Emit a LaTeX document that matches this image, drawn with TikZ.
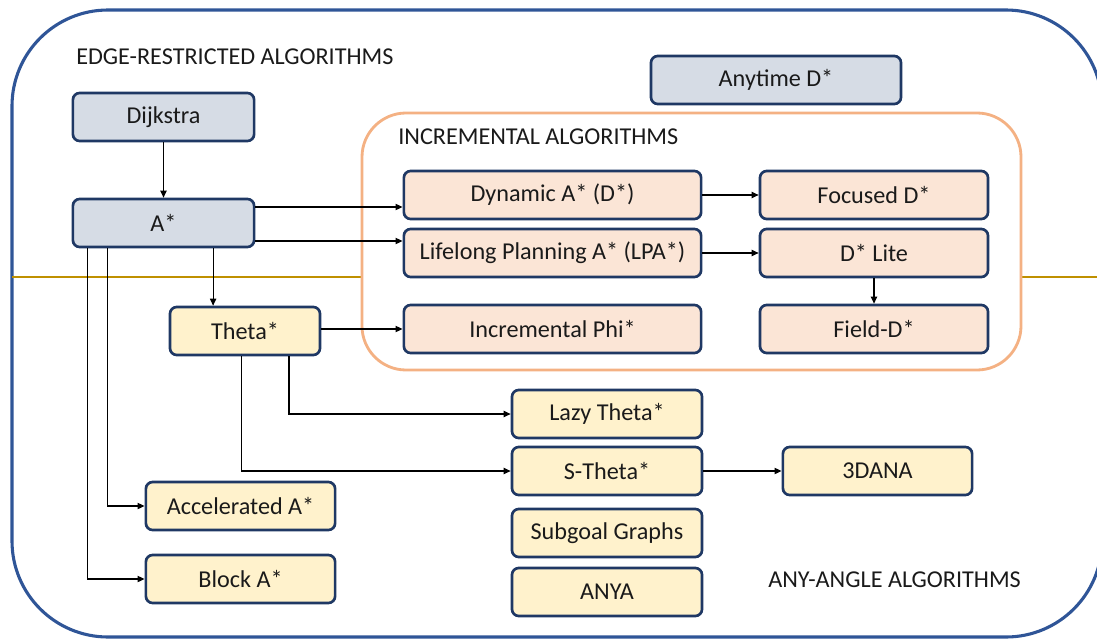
\documentclass[tikz,border=0pt]{standalone}
\usepackage{fontspec}
\setmainfont{Carlito}
\usetikzlibrary{arrows.meta}
\definecolor{framecol}{HTML}{2F5597}
\definecolor{navy}{HTML}{1F3864}
\definecolor{incframe}{HTML}{F4B183}
\definecolor{goldline}{HTML}{BF9000}
\definecolor{edgefill}{HTML}{D6DCE5}
\definecolor{incfill}{HTML}{FBE5D6}
\definecolor{anyfill}{HTML}{FFF2CC}
\definecolor{txt}{HTML}{1A1A1A}
\begin{document}
\begin{tikzpicture}[
            x=0.025cm, y=-0.025cm,
            every node/.style={text=txt, font=\fontsize{17.2}{20}\selectfont},
            algo/.style={draw=navy, line width=1.9pt, rounded corners=0.17cm,
                minimum height=1.2cm, inner sep=0pt},
            edgealgo/.style={algo, fill=edgefill},
            incalgo/.style={algo, fill=incfill},
            anyalgo/.style={algo, fill=anyfill},
            title/.style={anchor=west, inner sep=0pt},
            arr/.style={-{Triangle[length=5pt,width=4.5pt]}, line width=0.8pt, black}
            ]
            \useasboundingbox (0,0) rectangle (1097,638);
            \clip (0,0) rectangle (1097,638);
            % frames
            \draw[framecol, line width=2.2pt, rounded corners=2.4cm] (12,10) rectangle (1102,637);
            \draw[goldline, line width=1.6pt] (12,277) -- (362,277);
            \draw[goldline, line width=1.6pt] (1021,277) -- (1100,277);
            \draw[incframe, line width=2pt, fill=white, rounded corners=1.1cm] (362,113) rectangle (1021,370);
            \node[title] (edgetitle) at (76,57) {EDGE-RESTRICTED ALGORITHMS};
            \node[title] (inctitle) at (398,137) {INCREMENTAL ALGORITHMS};
            \node[title] (anytitle) at (768,580) {ANY-ANGLE ALGORITHMS};
            % edge-restricted
            \node[edgealgo, minimum width=4.53cm] (dijkstra) at (163.5,117) {Dijkstra};
            \node[edgealgo, minimum width=4.53cm] (astar) at (163.5,223) {A*};
            \node[edgealgo, minimum width=6.25cm] (anytime) at (776,80) {Anytime D*};
            % incremental
            \node[incalgo, minimum width=7.43cm] (dstar) at (552.5,195) {Dynamic A* (D*)};
            \node[incalgo, minimum width=7.43cm] (lpa) at (552.5,253) {Lifelong Planning A* (LPA*)};
            \node[incalgo, minimum width=7.43cm] (phi) at (552.5,329) {Incremental Phi*};
            \node[incalgo, minimum width=5.7cm] (focused) at (874,195) {Focused D*};
            \node[incalgo, minimum width=5.7cm] (dlite) at (874,253) {D* Lite};
            \node[incalgo, minimum width=5.7cm] (field) at (874,329) {Field-D*};
            % any-angle
            \node[anyalgo, minimum width=3.75cm] (theta) at (245,331) {Theta*};
            \node[anyalgo, minimum width=4.75cm] (lazy) at (607,414) {Lazy Theta*};
            \node[anyalgo, minimum width=4.75cm] (stheta) at (607,471) {S-Theta*};
            \node[anyalgo, minimum width=4.75cm] (subgoal) at (607,533) {Subgoal Graphs};
            \node[anyalgo, minimum width=4.75cm] (anya) at (607,592) {ANYA};
            \node[anyalgo, minimum width=4.73cm] (dana) at (877.5,471) {3DANA};
            \node[anyalgo, minimum width=4.73cm] (accel) at (240.5,506) {Accelerated A*};
            \node[anyalgo, minimum width=4.73cm] (block) at (240.5,579) {Block A*};
            % arrows
            \draw[arr] (dijkstra) -- (astar);
            \draw[arr] ([yshift=0.4cm]astar.east) -- ([yshift=0.4cm]astar.east -| dstar.west);
            \draw[arr] ([yshift=-0.45cm]astar.east) -- ([yshift=-0.45cm]astar.east -| lpa.west);
            \draw[arr] ([xshift=1.24cm]astar.south) -- ([xshift=1.24cm]astar.south |- theta.north);
            \draw[arr] ([xshift=-1.39cm]astar.south) |- (accel.west);
            \draw[arr] ([xshift=-1.89cm]astar.south) |- (block.west);
            \draw[arr] ([yshift=0.05cm]theta.east) -- ([yshift=0.05cm]theta.east -| phi.west);
            \draw[arr] ([xshift=1.1cm]theta.south) |- (lazy.west);
            \draw[arr] ([xshift=-0.08cm]theta.south) |- (stheta.west);
            \draw[arr] (stheta) -- (dana);
            \draw[arr] (dstar) -- (focused);
            \draw[arr] (lpa) -- (dlite);
            \draw[arr] (dlite) -- (field);
\end{tikzpicture}
\end{document}
